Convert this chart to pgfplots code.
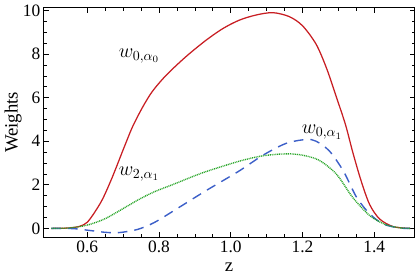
\documentclass[border=0pt]{standalone}
\usepackage{pgfplots}
\pgfplotsset{compat=1.18}
\usepackage{fontspec}
\setmainfont{Liberation Serif}
\definecolor{cred}{RGB}{200,30,35}
\definecolor{cblue}{RGB}{60,95,200}
\definecolor{cgreen}{RGB}{40,165,40}
\begin{document}
\begin{tikzpicture}
\begin{axis}[
  scale only axis,
  width=266.8pt, height=165pt,
  xmin=0.479, xmax=1.512,
  ymin=-0.4, ymax=10.12,
  xtick={0.6,0.8,1.0,1.2,1.4},
  xticklabels={0.6,0.8,1.0,1.2,1.4},
  ytick={0,2,4,6,8,10},
  minor x tick num=3,
  minor y tick num=3,
  tick align=inside,
  major tick length=3.5pt,
  minor tick length=2pt,
  axis line style={line width=0.8pt},
  every tick/.style={black, line width=0.5pt},
  /pgf/number format/assume math mode=true,
  tick label style={font=\fontsize{12.5}{13}\selectfont},
  xticklabel style={yshift=1pt},
  yticklabel style={xshift=1pt},
  xlabel={z}, ylabel={Weights},
  label style={font=\fontsize{13.5}{14}\selectfont},
  xlabel style={yshift=-1pt},
  ylabel style={yshift=-6pt},
  clip=true,
]
\addplot[cred, line width=0.9pt, smooth, tension=0.5] coordinates {
(0.50,0) (0.55,0.02) (0.58,0.10) (0.60,0.28) (0.62,0.72) (0.643,1.35)
(0.67,2.35) (0.70,3.6) (0.726,4.65) (0.754,5.55) (0.78,6.25) (0.81,6.85)
(0.84,7.35) (0.88,7.95) (0.93,8.62) (0.977,9.16) (1.023,9.55) (1.07,9.79)
(1.117,9.9) (1.163,9.72) (1.20,9.3) (1.238,8.45) (1.267,7.35) (1.295,6.0)
(1.32,4.75) (1.34,3.5) (1.363,2.2) (1.387,1.1) (1.415,0.43) (1.453,0.08) (1.50,0)
};
\addplot[cblue, line width=1.0pt, smooth, tension=0.5, dash pattern=on 7pt off 5pt] coordinates {
(0.50,0) (0.56,-0.01) (0.60,-0.08) (0.65,-0.18) (0.69,-0.19) (0.74,-0.05)
(0.787,0.27) (0.845,0.85) (0.93,1.72) (1.023,2.63) (1.089,3.35) (1.154,3.9)
(1.21,4.08) (1.238,4.0) (1.275,3.55) (1.314,2.63) (1.351,1.42) (1.388,0.66)
(1.425,0.2) (1.47,0.02) (1.50,0)
};
\addplot[cgreen, line width=1.0pt, smooth, tension=0.5, dash pattern=on 0.7pt off 0.6pt] coordinates {
(0.50,0) (0.55,0.02) (0.60,0.15) (0.648,0.43) (0.694,0.85) (0.741,1.3)
(0.787,1.68) (0.84,2.02) (0.885,2.32) (0.93,2.6) (1.023,3.08) (1.089,3.33) (1.154,3.42)
(1.20,3.36) (1.247,3.12) (1.295,2.48) (1.34,1.42) (1.388,0.58) (1.432,0.17)
(1.47,0.03) (1.50,0)
};
\node[font=\fontsize{14}{15}\selectfont] at (axis cs:0.745,7.9) {$w_{0,\alpha_0}$};
\node[font=\fontsize{14}{15}\selectfont] at (axis cs:0.745,2.5) {$w_{2,\alpha_1}$};
\node[font=\fontsize{14}{15}\selectfont] at (axis cs:1.255,4.4) {$w_{0,\alpha_1}$};
\end{axis}
\end{tikzpicture}
\end{document}
